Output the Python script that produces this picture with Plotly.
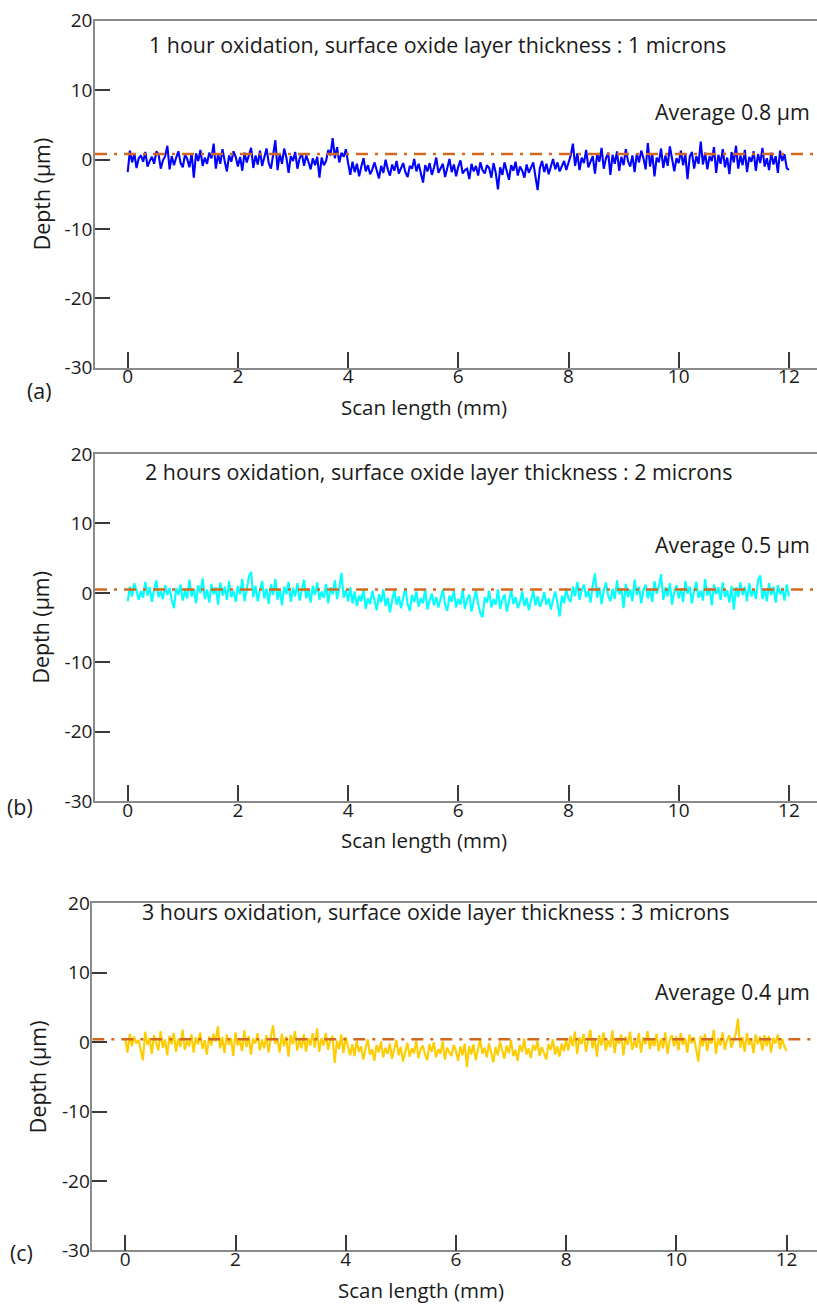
import plotly.graph_objects as go

# ---- surface profile data (depth in µm, 301 samples evenly spread over 0-12 mm) ----
scan_length_mm = 12.0

depth_1h = [
    -1.8, 1.3, -0.4, 0.9, -1.2, 0.2, 0.6, -0.3, 1.1, -1.0, -0.2, 0.4, -0.6, 1.2, 0.8, -1.3, -0.1, 0.5, 2.0, -1.4,
    0.5, -0.8, 0.3, 1.2, -0.5, -1.1, 0.7, 0.1, -1.1, 0.9, -2.6, 0.9, -0.2, 1.4, -0.9, 0.3, -0.6, 1.0, 0.2, 2.3,
    -1.3, 0.8, -0.6, 1.5, -0.2, -1.7, 0.6, -0.3, 1.2, 0.4, -1.0, 0.4, -1.6, 1.0, -0.4, 0.6, 1.7, -1.2, 0.6, -0.7,
    1.3, -0.9, 0.2, 1.6, -0.5, -1.3, 0.7, 2.8, -1.5, 0.9, -0.6, 1.6, 0.3, -1.9, 0.5, -0.2, 1.1, -1.3, 0.2, 0.9,
    -0.9, 0.6, -0.3, -1.4, 0.2, -0.8, 0.4, -2.6, 0.3, -0.8, -0.2, 1.4, 0.6, 3.1, 0.2, 1.8, -0.4, 1.0, 0.4, 1.5,
    -0.5,
    -2.2, -0.3, -1.8, -0.6, -2.4, -1.0, 0.2, -1.7, -0.8, -2.1, -1.4, -0.4, -1.5, -2.7, -0.9, -1.9, 0.0, -1.4, -2.3,
    -0.7, -1.6, -0.2, -2.0, -1.1, -0.5, -1.8, -2.5, -0.9, -1.3, 0.1, -1.7, -0.6, -2.2, -3.3, -0.8, -1.7, -0.5, -2.2, -1.1,
    0.3, -1.9, -1.2, -0.6, -2.5, -1.2, 0.1, -1.8, -0.7, -2.4, -1.0, -0.1, -2.0, -1.5, -1.3, -2.8, -0.6, -1.7, -0.9, -2.3,
    -0.4, -1.5, -2.0, -0.8, -1.2, -2.6, -0.5, -1.9, -4.3, -1.1, -2.2, -0.4, -1.9, -2.9, -0.8, -1.6, -0.3, -2.3, -1.0, -1.6,
    -2.6, -0.7, -1.9, -1.2, -0.4, -2.4, -4.4, -1.2, -0.2, -1.8, -0.6, -2.1, -1.1, 0.1, -1.4, -0.4, -1.7, -0.9, -0.2, -1.5,
    -0.6,
    0.6, 2.3, -0.9, 0.9, -1.5, 0.3, -0.5, 1.4, -1.1, -0.3, 0.5, -2.0, 0.8, -0.3, 1.7, -1.3, 0.2, 1.0, -2.2,
    0.7, -0.6, 1.2, -1.6, 0.4, -0.8, 1.5, -0.2, -1.0, 0.6, -1.8, 0.9, -0.4, 1.3, 0.2, -1.4, 2.4, -1.0, 0.9, -2.4,
    0.3, -0.4, 1.6, -1.2, 0.6, -0.9, 1.9, -0.1, -1.7, 0.2, -0.5, 1.3, -0.8, 0.8, -2.8, 0.4, 1.1, -1.3, 0.5, -0.6,
    2.6, -0.7, 1.0, -1.4, 0.5, -0.2, 1.8, -1.9, 0.7, -0.6, 1.5, -1.1, 0.3, -2.1, 1.1, -0.4, 2.0, -1.3, 0.6, -0.8,
    1.4, -1.8, 0.4, -0.3, 1.2, -1.6, 0.8, -0.5, 1.7, -1.0, 0.2, -1.5, 1.0, -0.7, 0.5, -1.9, 1.3, -0.2, 0.8, -1.2,
    -1.5,
]

depth_2h = [
    -1.2, 0.9, -0.5, 1.4, 0.3, -1.0, 0.3, -0.7, 1.6, -0.4, 0.8, -1.3, 0.5, 1.8, -0.6, 0.2, -0.9, 1.1, -0.3, 0.7,
    -1.1, -2.2, 0.7, -0.3, 1.2, -1.1, 0.4, -0.8, 1.9, -0.5, 0.6, -1.5, 1.1, 0.0, 2.1, -0.9, 0.5, -1.4, 1.3, -0.2,
    0.8, -1.7, 1.5, -0.4, 0.9, -1.0, 1.7, -0.6, 0.3, -1.3, 1.0, -0.2, 2.0, -1.2, 0.4, 2.4, 3.0, -0.6, 1.0, -1.2,
    0.4, 1.7, -0.8, 0.6, -1.6, 1.2, -0.3, 2.0, -1.0, 0.5, -1.8, 0.9, -0.2, 1.6, -1.3, 0.7, -0.5, 1.4, -1.1, 0.3,
    1.9, -0.8, 0.6, -1.4, 1.0, -0.3, 1.5, -1.0, 0.2, -0.7, 1.3, -1.5, 0.8, -0.2, 1.8, -0.9, 0.6, 2.9, -0.7, 0.4,
    -1.2,
    0.8, -1.5, 0.2, -1.9, -0.4, -1.2, 0.6, -2.3, -0.8, -1.6, 0.3, -1.1, -2.5, -0.2, -1.4, 0.5, -1.9, -0.7, -2.8,
    -1.0, 0.4, -1.7, -0.5, -2.2, -0.9, 0.7, -1.6, -2.6, -0.3, -1.3, 0.2, -2.0, -0.8, -1.5, 0.6, -2.4, -1.1, -0.1, -1.8,
    -0.6, -2.1, -0.9, 0.5, -1.7, -2.6, -0.4, -1.3, 0.3, -2.1, -0.9, -1.7, 0.5, -2.3, -1.0, -0.2, -2.7, -1.2, 0.4, -1.6,
    -2.9, -3.5, -0.6, -1.4, 0.3, -2.1, -0.9, -1.7, 0.5, -2.3, -1.0, -0.2, -2.7, -1.2, 0.4, -1.6, -0.6, -2.2, -1.3, 0.2,
    -1.9, -0.7, -2.5, -1.1, 0.3, -1.8, -0.5, -2.0, -1.2, 0.1, -1.7, -0.8, -2.4, -1.0, 0.2, -1.5, -3.4, -0.4, -1.5, 0.6,
    -0.9,
    -1.3, 0.9, -0.5, 1.6, -1.0, 0.4, 1.2, -0.6, 0.3, -1.4, 1.1, 2.8, -0.7, 0.8, -1.6, 0.3, 1.5, -0.4, -1.2,
    0.6, -0.9, 1.8, -0.2, 0.7, -2.2, 1.3, -0.6, 0.5, -1.2, 1.9, -0.3, 0.9, -1.5, 0.4, 1.2, -0.8, 0.6, -1.3, 1.7,
    -0.1, 0.9, 2.7, -1.0, 0.8, -0.5, 1.4, -1.7, 0.2, 1.1, -0.8, 0.6, -1.3, 1.7, -0.1, 0.9, -1.5, 0.4, 1.6, -0.7,
    0.3, -1.1, 2.0, -0.4, 0.7, -1.8, 1.2, -0.2, 0.8, -1.0, 1.5, -0.6, 0.4, -1.4, 1.0, -2.4, 0.8, -0.6, 1.5, -0.3,
    0.9, -1.2, 1.4, -0.5, 0.6, -0.9, 1.8, 2.5, -0.9, 0.6, -1.2, 1.4, -0.3, 0.9, -1.4, 1.1, -0.2, 0.7, -1.1, 1.2,
    -0.5,
]

depth_3h = [
    0.4, -1.5, 1.2, -0.6, 0.8, -0.2, 0.3, -1.0, -2.6, 1.5, -0.4, 0.6, -1.7, 1.0, -0.2, -1.2, 1.6, -0.8, 0.4, -1.9,
    0.9, -0.3, 1.3, -1.4, 0.5, -0.7, 1.8, -1.1, 0.2, -0.6, 1.1, -1.5, 0.7, -0.3, 1.4, -1.0, 0.3, -1.8, 0.8, -0.5,
    1.2, 0.1, 2.3, -0.9, 0.7, -1.6, 1.1, -0.4, 0.6, -2.0, 1.4, -0.5, 0.3, -1.3, 1.7, -0.7, 0.9, -1.8, 0.5, -0.2,
    1.3, -1.2, 0.4, -0.9, 1.0, -1.5, 0.6, 2.4, -0.2, 0.5, -1.5, 1.2, -0.6, 0.8, -2.1, 1.0, -0.3, 1.6, -1.2, 0.4,
    -0.9, 1.1, -1.4, 0.6, -0.5, 1.3, -0.8, 2.0, -1.4, 0.6, -0.5, 1.3, -1.1, 0.2, 0.9, -3.0, 0.2, -1.0, 1.1, -1.6,
    0.7,
    -0.8, -1.9, -0.3, -2.0, 0.2, -1.4, -0.6, -2.5, -0.9, 0.4, -1.8, -1.0, -2.7, -0.4, -1.5, 0.1, -2.2, -0.8, -1.7,
    -0.2, -2.4, -1.1, 0.3, -1.9, -0.7, -2.8, -1.3, -0.1, -2.1, -0.9, -1.6, 0.2, -2.3, -1.0, -0.5, -1.8, -2.6, -0.3, -1.4,
    0.0, -2.2, -1.0, -1.7, 0.1, -2.5, -0.8, -1.5, -2.0, -0.4, -1.2, -2.7, -0.6, -1.9, -0.2, -3.6, -0.6, -1.8, -0.3, -2.6,
    -1.0, 0.4, -1.7, -0.8, -2.2, -0.2, -1.5, -2.9, -0.7, -1.9, 0.1, -1.3, -2.4, -0.5, -1.6, 0.3, -2.0, -1.1, -2.7, -0.4,
    -1.4, 0.5, -1.8, -0.9, -2.3, -0.4, -1.2, 0.2, -2.0, -0.7, -1.6, -2.5, -0.3, -1.1, 0.4, -1.8, -0.6, -2.1, -0.2, -1.3,
    0.3,
    -1.2, 0.9, -0.6, 1.5, -1.7, 0.7, -0.3, 1.2, -1.4, 0.2, 1.8, -0.9, 0.5, -2.1, 1.0, -0.5, 1.4, -1.2, 0.3,
    -0.7, 1.7, -1.6, 0.6, -0.2, 1.1, -1.9, 0.8, -0.4, 1.5, -1.1, 0.2, -0.8, 1.3, -1.5, 0.7, -0.3, 1.6, -1.0, 0.4,
    -0.6, 1.2, -1.3, 0.5, -0.9, 1.4, -1.7, 0.3, 1.0, -0.6, 0.8, -1.2, 1.3, -0.4, 0.6, -1.5, 1.1, -0.2, 0.7, -1.0,
    -2.8, 0.9, -0.6, 1.2, -1.3, 0.5, -0.2, 1.8, -1.7, 0.6, -0.5, 1.4, -1.1, 0.3, 1.0, -0.8, 0.4, 1.2, 3.4, -0.8,
    0.7, -1.4, 1.3, -0.4, 0.5, -1.6, 1.1, -0.3, 0.8, -1.2, 1.0, -0.6, 0.9, -1.5, 0.6, -0.2, 1.1, -1.0, 0.5, -0.6,
    -1.3,
]

averages_um = [0.8, 0.5, 0.4]
profiles = [depth_1h, depth_2h, depth_3h]
line_colors = ["#0000FF", "#00FFFF", "#FFCC00"]
panel_titles = [
    "1 hour oxidation, surface oxide layer thickness : 1 microns",
    "2 hours oxidation, surface oxide layer thickness : 2 microns",
    "3 hours oxidation, surface oxide layer thickness : 3 microns",
]
panel_tags = ["(a)", "(b)", "(c)"]
x_ticks = [0, 2, 4, 6, 8, 10, 12]
y_ticks = [-30, -20, -10, 0, 10, 20]
y_tick_text = ["-30", "-20", "-10", "0", "10", "20"]

# ---- page geometry (pixels) ----
W, H = 817, 1314
FONT = "Open Sans"
TXT = "#1a1a1a"
AXIS_GRAY = "#8a8a8a"
TICK_GRAY = "#3a3a3a"
PX_PER_MM = 55.1

# per panel: top of frame, left axis position, pixel of x = 0, title pos, average label y, tag pos
panels = [
    dict(top=8.0, left=95.0, zero=127.7, title=(147, 32), avg_y=100, tag=(39, 385)),
    dict(top=450.0, left=95.0, zero=127.7, title=(143, 468), avg_y=542, tag=(20, 810)),
    dict(top=908.3, left=92.3, zero=125.3, title=(140, 917), avg_y=998, tag=(21, 1265)),
]
PANEL_H = 354.0


def fx(px):
    return px / W


def fy(py):
    return 1 - py / H


fig = go.Figure()
annotations = []

for i, (p, prof, col, avg) in enumerate(zip(panels, profiles, line_colors, averages_um)):
    n = "" if i == 0 else str(i + 1)
    xa, ya = "x" + n, "y" + n
    xs = [round(k * scan_length_mm / (len(prof) - 1), 3) for k in range(len(prof))]
    top, bottom = p["top"], p["top"] + PANEL_H
    x_lo = (p["left"] - p["zero"]) / PX_PER_MM
    x_hi = (W - p["zero"]) / PX_PER_MM

    fig.add_trace(go.Scatter(
        x=xs, y=prof, mode="lines", xaxis=xa, yaxis=ya,
        line=dict(color=col, width=2.1), showlegend=False, hoverinfo="skip",
    ))
    # mean level, dash-dot across the whole frame
    fig.add_trace(go.Scatter(
        x=[x_lo, x_hi], y=[avg, avg], mode="lines", xaxis=xa, yaxis=ya,
        line=dict(color="#D2691E", width=2.5, dash="12px,7px,3px,7px"),
        showlegend=False, hoverinfo="skip",
    ))

    axis_font = dict(family=FONT, size=19, color=TXT)
    fig.update_layout({
        ("xaxis" + n): dict(
            domain=[fx(p["left"]), 1.0], range=[x_lo, x_hi], anchor=ya,
            tickmode="array", tickvals=x_ticks, ticks="inside", ticklen=16,
            tickwidth=1.8, tickcolor=TICK_GRAY, showline=True, mirror=True,
            linecolor=AXIS_GRAY, linewidth=1.5, showgrid=False, zeroline=False,
            tickfont=axis_font, ticklabelstandoff=-9, fixedrange=True,
        ),
        ("yaxis" + n): dict(
            domain=[fy(bottom), fy(top)], range=[-30, 20], anchor=xa,
            tickmode="array", tickvals=y_ticks, ticktext=y_tick_text,
            ticks="inside", ticklen=15,
            tickwidth=1.8, tickcolor=TICK_GRAY, showline=True,
            linecolor=AXIS_GRAY, linewidth=1.5, showgrid=False, zeroline=False,
            tickfont=axis_font, ticklabelstandoff=-3, fixedrange=True,
        ),
    })

    tx, ty = p["title"]
    text_font = dict(family=FONT, size=21.4, color=TXT)
    label_font = dict(family=FONT, size=20.5, color=TXT)
    annotations += [
        dict(text=panel_titles[i], x=fx(tx), y=fy(ty), xanchor="left", yanchor="middle",
             font=text_font),
        dict(text=f"Average {avg} µm", x=fx(812), y=fy(p["avg_y"]), xanchor="right",
             yanchor="middle", font=text_font),
        dict(text=panel_tags[i], x=fx(p["tag"][0]), y=fy(p["tag"][1]), xanchor="center",
             yanchor="middle", font=text_font),
        dict(text="Scan length (mm)", x=fx(p["left"] + 328.5), y=fy(bottom + 40),
             xanchor="center", yanchor="middle", font=label_font),
        dict(text="Depth (µm)", x=fx(p["left"] - 54), y=fy((top + bottom) / 2),
             xanchor="center", yanchor="middle", textangle=-90, font=text_font),
    ]

for a in annotations:
    a.update(xref="paper", yref="paper", showarrow=False)

fig.update_layout(
    width=W, height=H, margin=dict(l=0, r=0, t=0, b=0),
    paper_bgcolor="white", plot_bgcolor="white",
    annotations=annotations, showlegend=False,
)

fig.write_html("out.html", config={"displayModeBar": False})
